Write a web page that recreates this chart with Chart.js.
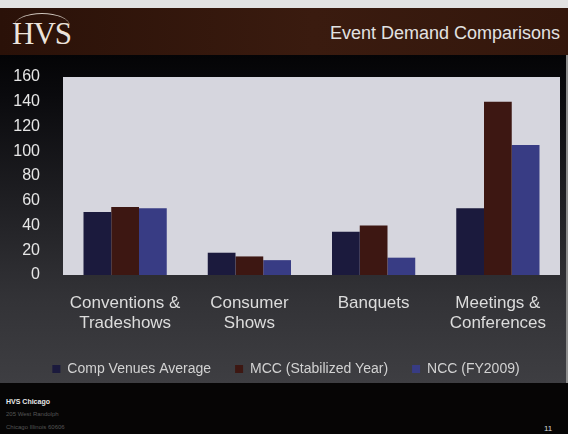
<!DOCTYPE html>
<html><head><meta charset="utf-8">
<script src="https://cdn.jsdelivr.net/npm/chart.js@4"></script>
<style>
html,body{margin:0;padding:0;}
body{width:568px;height:434px;position:relative;overflow:hidden;background:#060505;font-family:"Liberation Sans",Arial,sans-serif;}
#topstrip{position:absolute;left:0;top:0;width:568px;height:8px;background:#e2e2e2;}
#header{position:absolute;left:0;top:8px;width:568px;height:47px;background:linear-gradient(90deg,#2a1108 0%,#3a1b0f 55%,#34170c 100%);}
#panel{position:absolute;left:0;top:55px;width:566px;height:328px;background:linear-gradient(180deg,#040406 0%,#0a0a0d 12%,#1f1f23 45%,#333337 75%,#3e3e42 100%);}
#rstrip{position:absolute;left:566px;top:55px;width:2px;height:328px;background:#8c8c8c;}
#logo{position:absolute;left:12px;top:17px;font-family:"Liberation Serif","DejaVu Serif",serif;font-size:31px;color:#ece4dc;letter-spacing:-1px;line-height:34px;}
#arc{position:absolute;left:14px;top:13px;width:56px;height:12px;border-top:1px solid #cfc6bd;border-radius:50% 50% 0 0 / 100% 100% 0 0;}
#title{position:absolute;right:8px;top:22px;font-size:18px;color:#e2e2e2;line-height:22px;}
#f1{position:absolute;left:6px;top:398px;font-size:7px;font-weight:bold;color:#e8e8e8;}
#f2{position:absolute;left:6px;top:411px;font-size:6px;color:#555;}
#f3{position:absolute;left:6px;top:424px;font-size:6px;color:#555;}
#pg{position:absolute;left:544px;top:424px;font-size:8px;color:#d8d8d8;}
#c{position:absolute;left:0;top:0;}
</style></head>
<body>
<div id="topstrip"></div>
<div id="header"></div>
<div id="panel"></div>
<div id="rstrip"></div>
<div id="arc"></div>
<div id="logo">HVS</div>
<div id="title">Event Demand Comparisons</div>
<div id="f1">HVS Chicago</div>
<div id="f2">205 West Randolph</div>
<div id="f3">Chicago Illinois 60606</div>
<div id="pg">11</div>
<canvas id="c" width="568" height="434"></canvas>
<script>
const categories = [['Conventions &','Tradeshows'],['Consumer','Shows'],['Banquets'],['Meetings &','Conferences']];
const seriesNames = ['Comp Venues Average','MCC (Stabilized Year)','NCC (FY2009)'];
const compVenues = [51, 18, 35, 54];
const mcc = [55, 15, 40, 140];
const ncc = [54, 12, 14, 105];
const yTicks = [0,20,40,60,80,100,120,140,160];

const plotBg = {id:'plotBg', beforeDraw(chart){
  const {ctx, chartArea:{left,top,width,height}} = chart;
  ctx.save(); ctx.fillStyle = '#d6d6de'; ctx.fillRect(left, top, width, height); ctx.restore();
}};

new Chart(document.getElementById('c'), {
  type: 'bar',
  data: {
    labels: categories,
    datasets: [
      {label: seriesNames[0], data: compVenues, backgroundColor: '#1b1a3d'},
      {label: seriesNames[1], data: mcc, backgroundColor: '#3d1712'},
      {label: seriesNames[2], data: ncc, backgroundColor: '#383c84'}
    ]
  },
  options: {
    responsive: false,
    animation: false,
    datasets: {bar: {categoryPercentage: 0.67, barPercentage: 1.0, borderWidth: 0}},
    layout: {padding: {left: 12, right: 8, top: 77, bottom: 48}},
    plugins: {
      tooltip: {enabled: false},
      legend: {
        position: 'bottom',
        labels: {boxWidth: 8, boxHeight: 8, padding: 24, color: '#d2d2d2', font: {family: 'Liberation Sans', size: 14}}
      }
    },
    scales: {
      y: {
        min: 0, max: 160,
        afterBuildTicks: s => { s.ticks = yTicks.map(v => ({value: v})); },
        afterFit: s => { s.width = 51; },
        grid: {display: false}, border: {display: false},
        ticks: {color: '#e6e6e6', padding: 15, font: {family: 'Liberation Sans', size: 16}}
      },
      x: {
        afterFit: s => { s.height = 63; },
        grid: {display: false}, border: {display: false},
        ticks: {color: '#dcdcdc', padding: 10, maxRotation: 0, autoSkip: false, font: {family: 'Liberation Sans', size: 17}}
      }
    }
  },
  plugins: [plotBg]
});
</script>
</body></html>
